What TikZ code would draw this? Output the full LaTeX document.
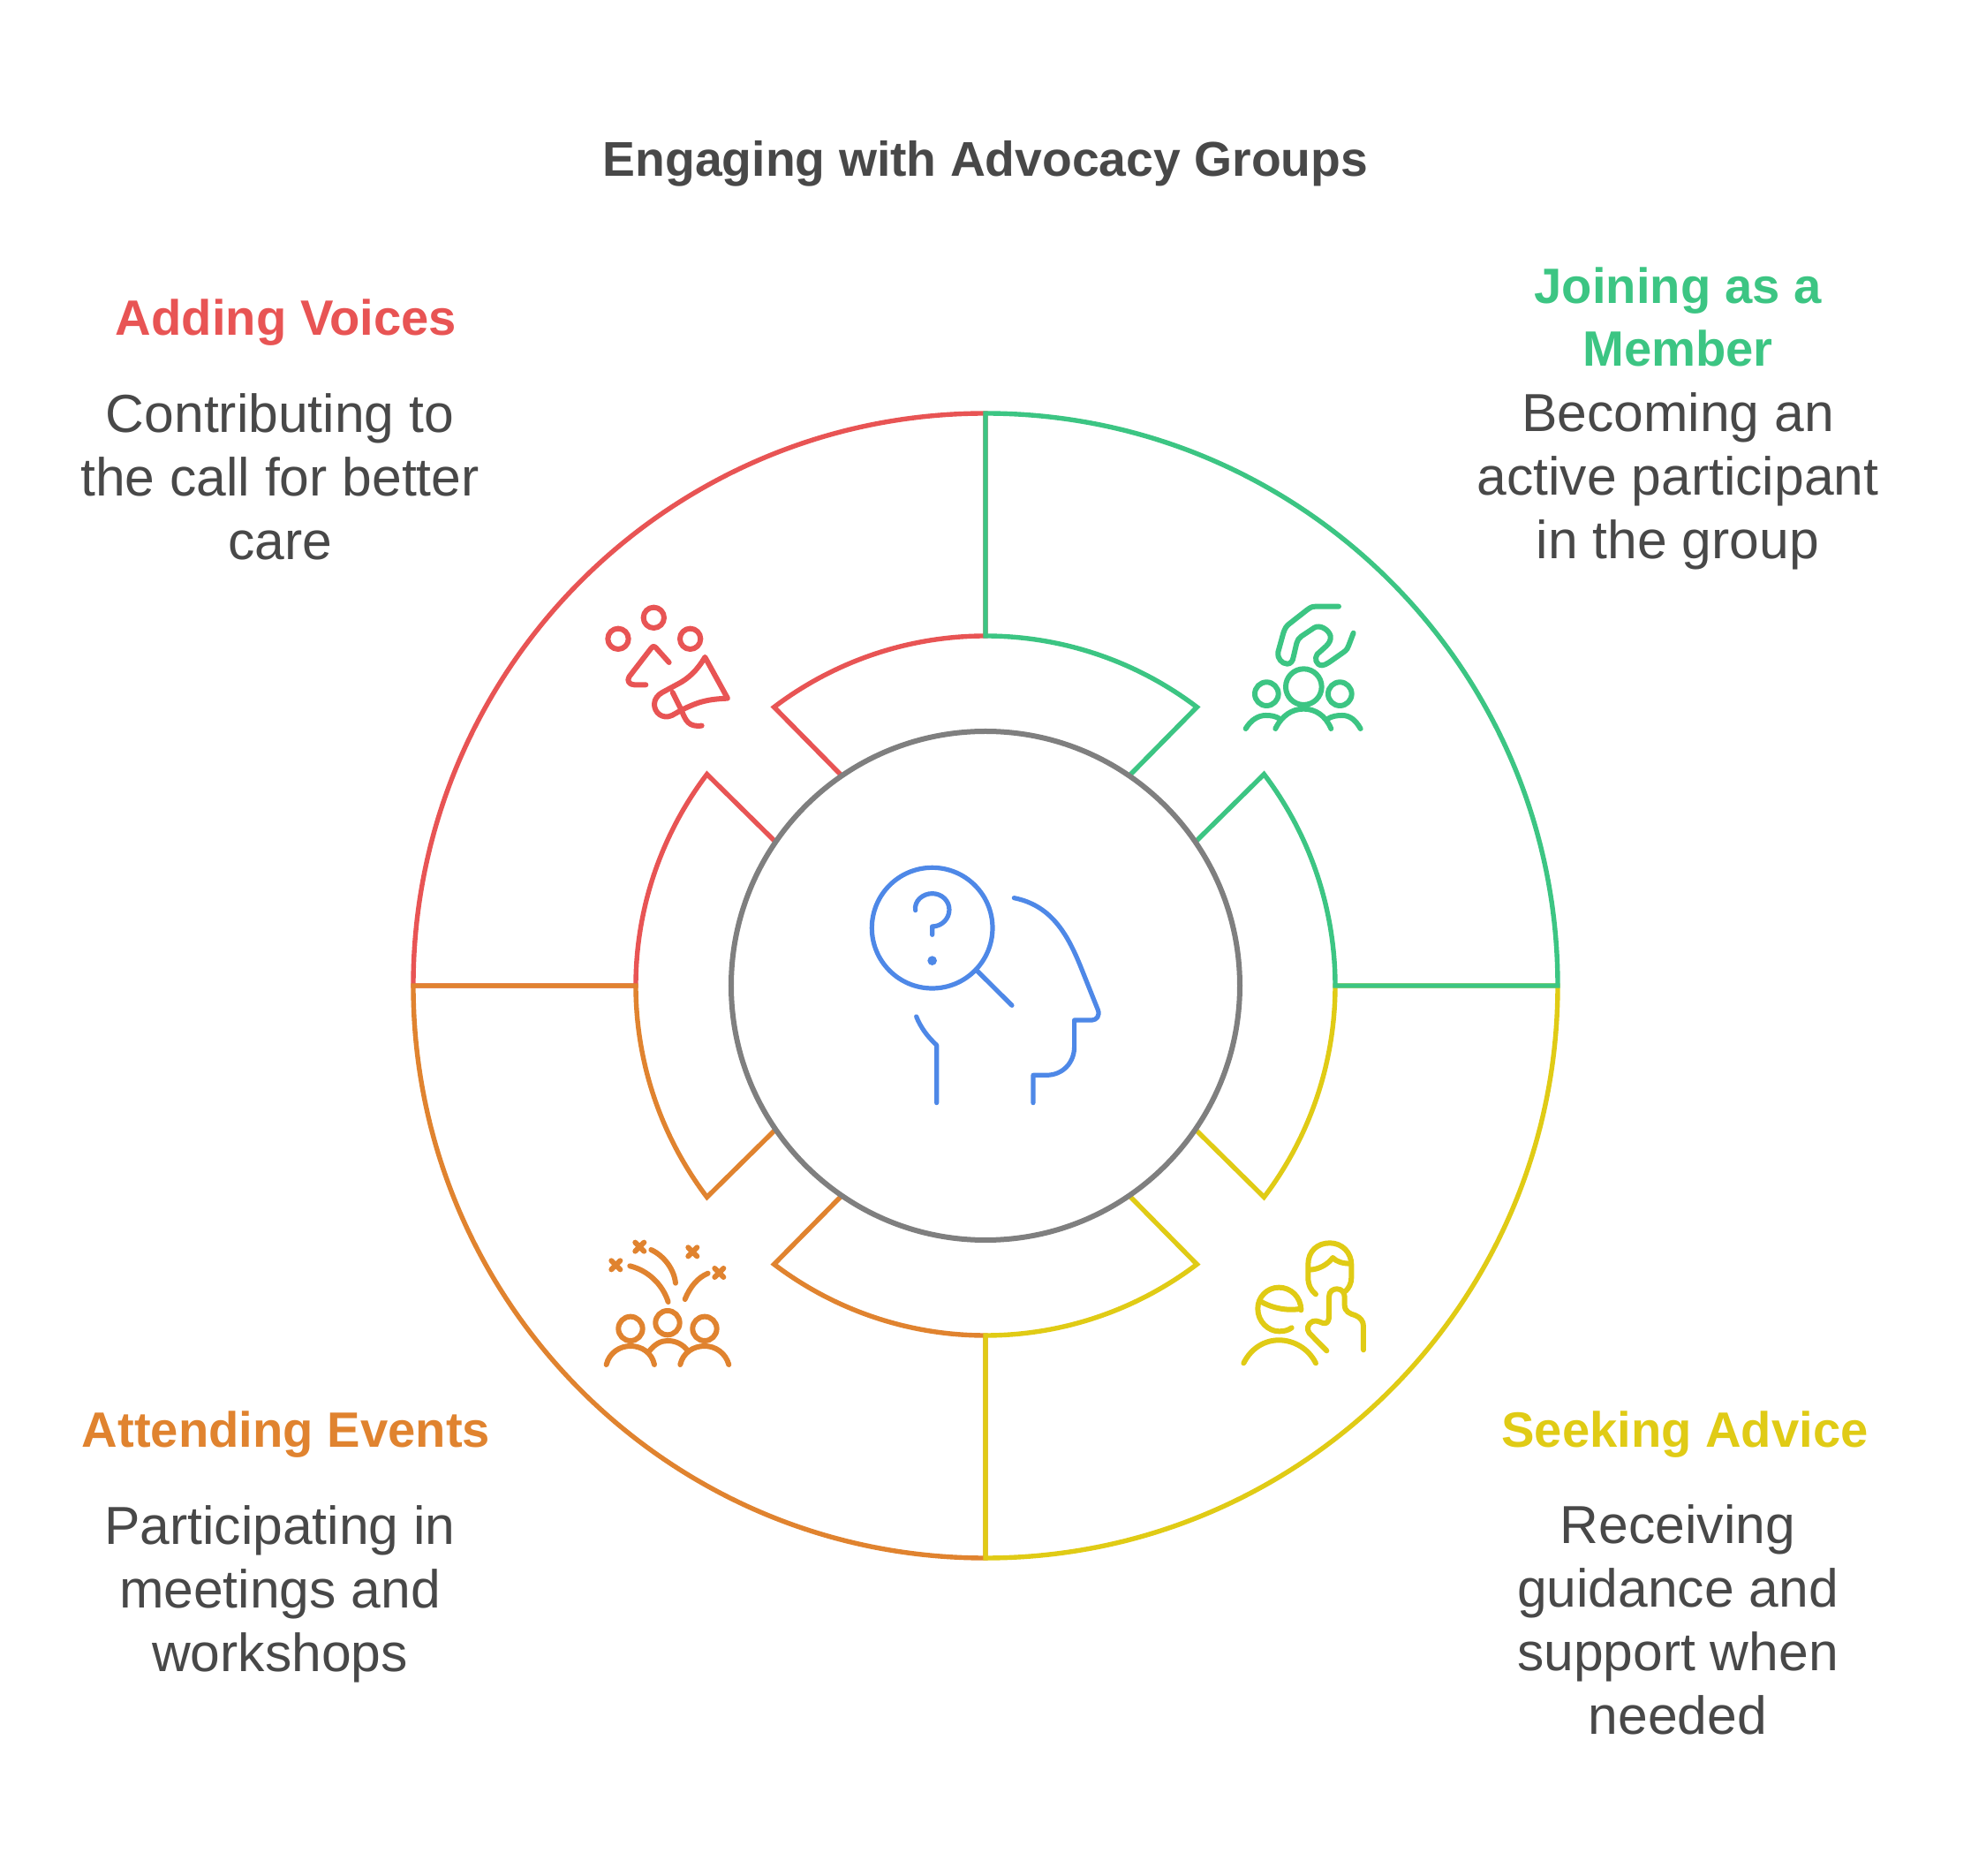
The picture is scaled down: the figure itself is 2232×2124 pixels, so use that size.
\documentclass[tikz,border=0pt]{standalone}
\usepackage{fontspec}
\setmainfont{Liberation Sans}
\definecolor{cred}{HTML}{E85454}
\definecolor{cgreen}{HTML}{3CC583}
\definecolor{cyellow}{HTML}{E0CB15}
\definecolor{corange}{HTML}{E0832F}
\definecolor{cblue}{HTML}{4E88E7}
\definecolor{cgray}{HTML}{7F7F7F}
\definecolor{ctext}{HTML}{484848}
\begin{document}
\begin{tikzpicture}[
x=1pt,y=1pt,
every node/.style={inner sep=0,outer sep=0,align=center},
head/.style={font=\fontsize{56.2}{71}\selectfont\bfseries},
body/.style={font=\fontsize{60.6}{72}\selectfont,text=ctext},
ring/.style={line width=5.4pt},
icon/.style={line width=6pt,line cap=round,line join=round,x=0.3333pt,y=-0.3333pt},
]
\useasboundingbox (-1116,-1008) rectangle (1116,1116);

\foreach \c/\a in {cred/90,corange/180,cyellow/270,cgreen/0}{
\draw[ring,draw=\c,rotate=\a] (34.4:288) -- (37.2:396) arc[start angle=37.2,end angle=0,radius=396]
  -- (0:648) arc[start angle=0,end angle=90,radius=648] -- (90:396)
  arc[start angle=90,end angle=52.8,radius=396] -- (55.6:288);
}
\node[circle,draw=cgray,line width=6pt,minimum size=576pt] (hub) at (0,0) {};

\node[head,text=ctext,font=\fontsize{55.3}{71}\selectfont\bfseries] (title) at (0,931) {Engaging with Advocacy Groups};

\node[head,text=cred] (hv) at (-792,750.5) {Adding Voices};
\node[body] (bv) at (-799,576.5) {Contributing to\\the call for better\\care};

\node[head,text=cgreen] (hm) at (784,757) {Joining as a\\Member};
\node[body] (bm) at (784,571) {Becoming an\\active participant\\in the group};

\node[head,text=corange] (he) at (-792,-508) {Attending Events};
\node[body] (be) at (-799,-689) {Participating in\\meetings and\\workshops};

\node[head,text=cyellow] (ha) at (792,-508) {Seeking Advice};
\node[body] (ba) at (784,-718) {Receiving\\guidance and\\support when\\needed};

\begin{scope}[shift={(-456,456)},icon,draw=cred]
\foreach \p in {(241,118),(120,190),(365,190)}{
\draw \p circle[radius=35];
}
\draw (293,270) -- (250,222) .. controls (243,214) and (238,214) .. (232,222) -- (158,318)
  .. controls (148,332) and (158,346) .. (175,346) -- (214,346);
\draw (492,392) .. controls (420,395) and (390,405) .. (335,432) -- (303,450)
  .. controls (270,465) and (243,440) .. (243,412) .. controls (243,395) and (255,380) .. (270,372)
  -- (320,345) .. controls (360,325) and (390,295) .. (415,252) -- cycle;
\draw (305,372) -- (335,432) .. controls (350,470) and (360,490) .. (404,485);
\end{scope}

\begin{scope}[shift={(274,446)},icon,draw=cgreen]
\draw (259,323) circle[radius=61];
\draw (133,347) circle[radius=40];
\draw (382,347) circle[radius=40];
\draw (163,465) .. controls (185,420) and (220,398) .. (259,398) .. controls (298,398) and (333,420) .. (352,465);
\draw (62,465) .. controls (80,435) and (105,420) .. (130,420) .. controls (150,420) and (165,423) .. (178,432);
\draw (340,432) .. controls (355,423) and (370,420) .. (390,420) .. controls (415,420) and (435,435) .. (452,465);
\draw (378,50) -- (300,50) .. controls (285,50) and (280,55) .. (270,62) -- (215,105)
  .. controls (200,115) and (195,125) .. (190,140) -- (172,205)
  .. controls (168,225) and (185,245) .. (203,245) .. controls (215,245) and (222,235) .. (224,222)
  -- (235,175) .. controls (238,165) and (242,158) .. (250,152) -- (295,122)
  .. controls (315,110) and (345,130) .. (350,150) .. controls (352,165) and (345,175) .. (335,185)
  -- (305,212) .. controls (295,225) and (300,250) .. (322,250) .. controls (330,250) and (335,245) .. (345,240)
  -- (395,205) .. controls (405,198) and (410,190) .. (412,182) -- (428,140);
\end{scope}

\begin{scope}[shift={(-446,-274)},icon,draw=corange]
\draw (258,323) circle[radius=41];
\draw (132,343) circle[radius=41];
\draw (384,343) circle[radius=41];
\draw (50,465) .. controls (60,425) and (95,402) .. (132,402) .. controls (170,402) and (205,425) .. (213,465);
\draw (301,465) .. controls (310,425) and (345,402) .. (384,402) .. controls (420,402) and (455,425) .. (466,465);
\draw (195,420) .. controls (215,395) and (235,384) .. (258,384) .. controls (285,384) and (310,395) .. (328,420);
\draw (130,130) .. controls (190,145) and (240,190) .. (260,252);
\draw (202,75) .. controls (245,95) and (280,140) .. (285,188);
\draw (395,155) .. controls (360,170) and (335,200) .. (317,243);
\foreach \x/\y in {163/65,82/127,343/82,433/153}{
\draw (\x-15,\y-15) -- (\x+15,\y+15) (\x-15,\y+15) -- (\x+15,\y-15);
}
\end{scope}

\begin{scope}[shift={(274,-274)},icon,draw=cyellow]
\draw (300,226) .. controls (285,215) and (274,195) .. (274,170) -- (274,125)
  .. controls (274,80) and (305,52) .. (348,52) .. controls (390,52) and (421,85) .. (421,125)
  -- (421,170) .. controls (421,190) and (412,205) .. (402,215);
\draw (276,143) .. controls (310,143) and (340,125) .. (358,102) .. controls (370,115) and (390,122) .. (420,122);
\draw (250,280) .. controls (250,235) and (215,203) .. (175,203) .. controls (135,203) and (103,235) .. (103,275)
  .. controls (103,320) and (140,352) .. (175,352) .. controls (190,352) and (205,350) .. (218,340);
\draw (112,250) .. controls (145,270) and (200,285) .. (250,275);
\draw (55,460) .. controls (80,410) and (125,382) .. (175,382) .. controls (225,382) and (275,410) .. (300,460);
\draw (337,418) -- (278,358) .. controls (268,345) and (272,325) .. (290,318)
  .. controls (305,312) and (320,325) .. (330,325) .. controls (342,325) and (345,312) .. (345,300)
  -- (345,235) .. controls (345,215) and (360,208) .. (372,208) .. controls (388,208) and (398,220) .. (398,235)
  -- (398,262) .. controls (398,285) and (415,292) .. (435,298) .. controls (452,305) and (462,318) .. (462,335)
  -- (462,415);
\end{scope}

\begin{scope}[shift={(-156,156)},icon,draw=cblue,line width=5.2pt]
\draw (287,272) circle[radius=205];
\draw (230,212) .. controls (225,180) and (255,155) .. (287,155) .. controls (320,155) and (345,180) .. (345,210)
  .. controls (345,240) and (320,267) .. (287,267) -- (287,295);
\fill[cblue] (287,383) circle[radius=16];
\draw (440,418) -- (558,535);
\draw (565,170) .. controls (690,195) and (745,290) .. (790,400) -- (850,550)
  .. controls (858,570) and (845,585) .. (830,585) -- (770,585) -- (770,675)
  .. controls (770,730) and (730,772) .. (675,772) -- (630,772) -- (630,866);
\draw (233,573) .. controls (248,610) and (270,640) .. (302,670) -- (302,866);
\end{scope}

\end{tikzpicture}
\end{document}
